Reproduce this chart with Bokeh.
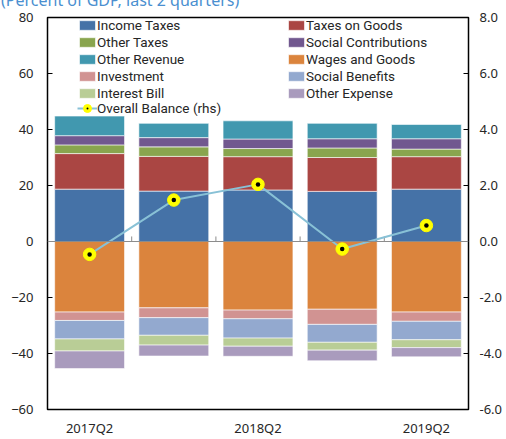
from bokeh.plotting import figure
from bokeh.models import (ColumnDataSource, Range1d, LinearAxis, Legend, LegendItem,
                          Span, FactorRange, Div, CustomJSTickFormatter)
from bokeh.transform import dodge
from bokeh.layouts import column
from bokeh.embed import file_html
from bokeh.resources import INLINE

categories = ["2017Q2", "2017Q4", "2018Q2", "2018Q4", "2019Q2"]

# Revenue (percent of GDP)
income_taxes = [18.7, 18.0, 18.4, 17.9, 18.7]
taxes_on_goods = [12.7, 12.4, 11.9, 12.1, 11.6]
other_taxes = [3.1, 3.4, 2.9, 3.4, 2.7]
social_contributions = [3.3, 3.3, 3.4, 3.3, 3.7]
other_revenue = [7.0, 5.1, 6.5, 5.5, 5.1]

# Expenditure (percent of GDP, shown negative)
wages_and_goods = [-25.2, -23.7, -24.5, -24.2, -25.2]
investment = [-3.0, -3.5, -3.1, -5.4, -3.3]
social_benefits = [-6.6, -6.3, -6.9, -6.4, -6.6]
interest_bill = [-4.3, -3.5, -2.9, -2.8, -2.8]
other_expense = [-6.3, -3.9, -3.6, -3.8, -3.3]

# Overall balance (rhs)
overall_balance = [-0.46, 1.48, 2.04, -0.27, 0.57]

left_ticks = [-60, -40, -20, 0, 20, 40, 60, 80]
right_ticks = [-6, -4, -2, 0, 2, 4, 6, 8]
shown_labels = ["2017Q2", "2018Q2", "2019Q2"]
subtitle = "(Percent of GDP, last 2 quarters)"

pos_keys = ["income_taxes", "taxes_on_goods", "other_taxes", "social_contributions", "other_revenue"]
pos_colors = ["#4572a7", "#aa4643", "#89a54e", "#71588f", "#4198af"]
neg_keys = ["wages_and_goods", "investment", "social_benefits", "interest_bill", "other_expense"]
neg_colors = ["#db843d", "#d19392", "#93a9cf", "#b9cd96", "#a99bbd"]

src = ColumnDataSource(dict(
    cat=categories,
    income_taxes=income_taxes, taxes_on_goods=taxes_on_goods, other_taxes=other_taxes,
    social_contributions=social_contributions, other_revenue=other_revenue,
    wages_and_goods=wages_and_goods, investment=investment, social_benefits=social_benefits,
    interest_bill=interest_bill, other_expense=other_expense,
    balance=overall_balance,
))

FONT = "Noto Sans"
LFONT = "Roboto"
TXT = "#262626"

p = figure(x_range=FactorRange(*categories), y_range=Range1d(-60, 80),
           width=506, height=439, output_backend="svg", toolbar_location=None,
           min_border_left=47, min_border_top=17, min_border_right=38, min_border_bottom=28)
p.extra_y_ranges = {"bal": Range1d(-6, 8)}
p.x_range.range_padding = 0
p.grid.visible = False
p.outline_line_color = "black"
p.outline_line_width = 1.5
p.background_fill_color = "white"
p.border_fill_color = "white"

pos_r = p.vbar_stack(pos_keys, x="cat", width=0.83, source=src, color=pos_colors,
                     line_color="white", line_width=0.6)
neg_r = p.vbar_stack(neg_keys, x="cat", width=0.83, source=src, color=neg_colors,
                     line_color="white", line_width=0.6)

p.add_layout(Span(location=0, dimension="width", line_color="#8c8c8c", line_width=1))
tick_src = ColumnDataSource(dict(cat=categories[1:]))
p.segment(x0=dodge("cat", -0.5, range=p.x_range), x1=dodge("cat", -0.5, range=p.x_range),
          y0=0, y1=1.8, source=tick_src, line_color="#8c8c8c", line_width=1)

bal_line = p.line("cat", "balance", source=src, y_range_name="bal",
                  line_color="#88c1d6", line_width=2)
bal_pt = p.scatter("cat", "balance", source=src, y_range_name="bal", size=12.5,
                   fill_color="#ffff00", line_color="#ffff00")
bal_dot = p.scatter("cat", "balance", source=src, y_range_name="bal", size=18, marker="dot",
                    fill_color="black", line_color="black")

# axes
ya = p.yaxis[0]
ya.ticker = left_ticks
ya.major_tick_in = 5
ya.major_tick_out = 0
ya.minor_tick_line_color = None
ya.axis_line_color = "black"
ya.major_tick_line_color = "black"
ya.major_label_standoff = 14
ya.major_label_text_font = FONT
ya.major_label_text_font_size = "13px"
ya.major_label_text_color = TXT

ra = LinearAxis(y_range_name="bal", ticker=right_ticks)
ra.formatter = CustomJSTickFormatter(code="return tick.toFixed(1);")
ra.major_tick_in = 5
ra.major_tick_out = 0
ra.minor_tick_line_color = None
ra.axis_line_color = "black"
ra.major_label_standoff = 11
ra.major_label_text_font = FONT
ra.major_label_text_font_size = "13px"
ra.major_label_text_color = TXT
p.add_layout(ra, "right")

xa = p.xaxis[0]
xa.axis_line_color = None
xa.major_tick_line_color = None
xa.major_tick_in = 0
xa.major_tick_out = 0
xa.minor_tick_in = 0
xa.minor_tick_out = 0
xa.formatter = CustomJSTickFormatter(args=dict(shown=shown_labels),
                                     code="return shown.includes(tick) ? tick : ' ';")
xa.major_label_overrides = {c: " " for c in categories if c not in shown_labels}
xa.major_label_standoff = 9
xa.major_label_text_font = FONT
xa.major_label_text_font_size = "13px"
xa.major_label_text_color = TXT

def mk_legend(items, loc, gh=12):
    return Legend(items=items, location=loc, background_fill_alpha=0, border_line_color=None,
                  padding=0, margin=0, spacing=0, glyph_width=20, glyph_height=gh,
                  label_height=17, label_standoff=0, label_text_font=LFONT,
                  label_text_font_size="13.5px", label_text_color=TXT)

items1 = [LegendItem(label="Income Taxes", renderers=[pos_r[0]]),
          LegendItem(label="Other Taxes", renderers=[pos_r[2]]),
          LegendItem(label="Other Revenue", renderers=[pos_r[4]]),
          LegendItem(label="Investment", renderers=[neg_r[1]]),
          LegendItem(label="Interest Bill", renderers=[neg_r[3]])]
items_bal = [LegendItem(label="Overall Balance (rhs)", renderers=[bal_line, bal_pt, bal_dot])]
items2 = [LegendItem(label="Taxes on Goods", renderers=[pos_r[1]]),
          LegendItem(label="Social Contributions", renderers=[pos_r[3]]),
          LegendItem(label="Wages and Goods", renderers=[neg_r[0]]),
          LegendItem(label="Social Benefits", renderers=[neg_r[2]]),
          LegendItem(label="Other Expense", renderers=[neg_r[4]])]

p.add_layout(mk_legend(items1, (30, 308)), "center")
p.add_layout(mk_legend(items_bal, (30, 289), gh=24), "center")
p.add_layout(mk_legend(items2, (239, 308)), "center")

# subtitle, cut off at the top edge as in the reference
title = Div(text=subtitle, width=300, height=0,
            styles={"position": "relative", "top": "-11px", "left": "1px", "color": "#4a8fd0",
                    "font-family": "Noto Sans", "font-size": "16px", "white-space": "nowrap",
                    "margin": "0", "overflow": "visible", "z-index": "5"})
layout = column(title, p, spacing=0)

open("out.html", "w").write(file_html(layout, INLINE))
